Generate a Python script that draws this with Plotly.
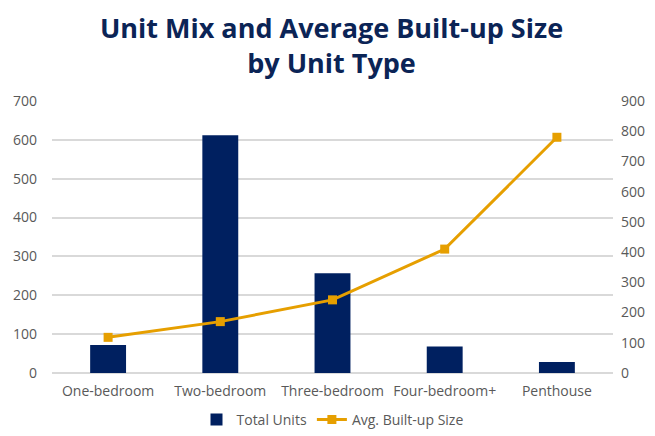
import plotly.graph_objects as go

categories = ["One-bedroom", "Two-bedroom", "Three-bedroom", "Four-bedroom+", "Penthouse"]
total_units = [72, 612, 257, 68, 28]
avg_size = [118, 170, 242, 410, 780]

BAR = "#002060"
LINE = "#E69F00"
TXT = "#595959"
FONT = "Open Sans"

fig = go.Figure()
fig.add_trace(go.Bar(x=categories, y=total_units, name="Total Units",
                     marker=dict(color=BAR, line=dict(width=0)), yaxis="y"))
fig.add_trace(go.Scatter(x=categories, y=avg_size, name="Avg. Built-up Size",
                         mode="lines+markers", yaxis="y2",
                         line=dict(color=LINE, width=3),
                         marker=dict(symbol="square", size=9, color=LINE)))

fig.update_layout(
    width=647, height=428,
    margin=dict(l=44, r=42, t=93, b=63, autoexpand=False),
    paper_bgcolor="white", plot_bgcolor="white",
    font=dict(family=FONT, color=TXT, size=14),
    title=dict(text="<b>Unit Mix and Average Built-up Size<br>by Unit Type</b>",
               x=0.5, xanchor="center", yref="container", y=0.93, yanchor="middle",
               font=dict(family=FONT, size=27, color="#0B2456")),
    bargap=0.68,
    showlegend=True,
    legend=dict(orientation="h", x=0.5, xanchor="center", yref="container", y=-0.035,
                yanchor="bottom", font=dict(size=14, color=TXT)),
    xaxis=dict(showgrid=False, showline=False, ticks="", ticklabelstandoff=8,
               tickfont=dict(size=14, color=TXT)),
    yaxis=dict(range=[0, 700], dtick=100, showgrid=True, gridcolor="#D9D9D9", gridwidth=1.5,
               zeroline=True, zerolinecolor="#D9D9D9", zerolinewidth=1.5,
               showline=False, ticks="", ticklabelstandoff=14,
               tickfont=dict(size=14, color=TXT)),
    yaxis2=dict(range=[0, 900], dtick=100, overlaying="y", side="right", showgrid=False,
                zeroline=False, showline=False, ticks="", ticklabelstandoff=7,
                tickfont=dict(size=14, color=TXT)),
)

fig.write_html("out.html")
